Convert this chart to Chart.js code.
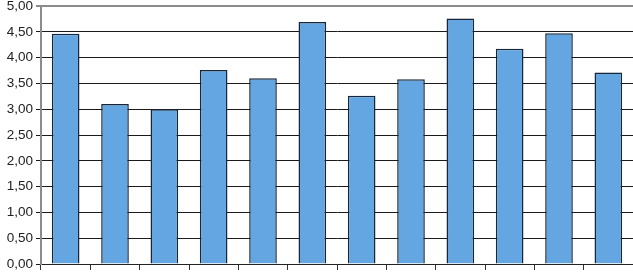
<!DOCTYPE html>
<html>
<head>
<meta charset="utf-8">
<script src="https://cdn.jsdelivr.net/npm/chart.js@4/dist/chart.umd.min.js"></script>
<style>
  html, body { margin: 0; padding: 0; background: #fff; }
  #wrap { width: 633px; height: 273px; }
</style>
</head>
<body>
<div id="wrap"><canvas id="c" width="633" height="273"></canvas></div>
<script>
const categories = ["1", "2", "3", "4", "5", "6", "7", "8", "9", "10", "11", "12"];
const values = [4.46, 3.10, 3.00, 3.76, 3.60, 4.69, 3.26, 3.58, 4.76, 4.17, 4.47, 3.71];
const yTicks = [0, 0.5, 1, 1.5, 2, 2.5, 3, 3.5, 4, 4.5, 5];

const fmt = v => v.toFixed(2).replace(".", ",");

new Chart(document.getElementById("c"), {
  type: "bar",
  data: {
    labels: categories,
    datasets: [{
      data: values,
      backgroundColor: "#63a6e1",
      borderColor: "#17263a",
      borderWidth: 1.5,
      categoryPercentage: 0.56,
      barPercentage: 1
    }]
  },
  options: {
    responsive: false,
    animation: false,
    devicePixelRatio: 1,
    layout: { padding: { top: 6, right: 0, left: 0, bottom: 0 } },
    plugins: { legend: { display: false }, tooltip: { enabled: false } },
    scales: {
      x: {
        offset: true,
        grid: {
          offset: true,
          drawOnChartArea: false,
          drawTicks: true,
          tickLength: 6,
          color: "#333"
        },
        border: { color: "#222", width: 1 },
        ticks: { display: false },
        afterFit: s => { s.height = 9; }
      },
      y: {
        min: 0,
        max: 5,
        afterBuildTicks: s => { s.ticks = yTicks.map(v => ({ value: v })); },
        grid: {
          color: c => c.tick && c.tick.value === 5 ? "#8c8c8c" : "#1a1a1a",
          lineWidth: c => c.tick && c.tick.value === 5 ? 2 : 1,
          tickLength: 5
        },
        border: { color: "#8c8c8c", width: 2 },
        ticks: {
          color: "#222",
          font: { family: "Liberation Sans, Arial", size: 13.5 },
          padding: 3,
          callback: v => fmt(v)
        },
        afterFit: s => { s.width = 41; s.paddingTop = 0; s.paddingBottom = 0; }
      }
    }
  }
});
</script>
</body>
</html>
